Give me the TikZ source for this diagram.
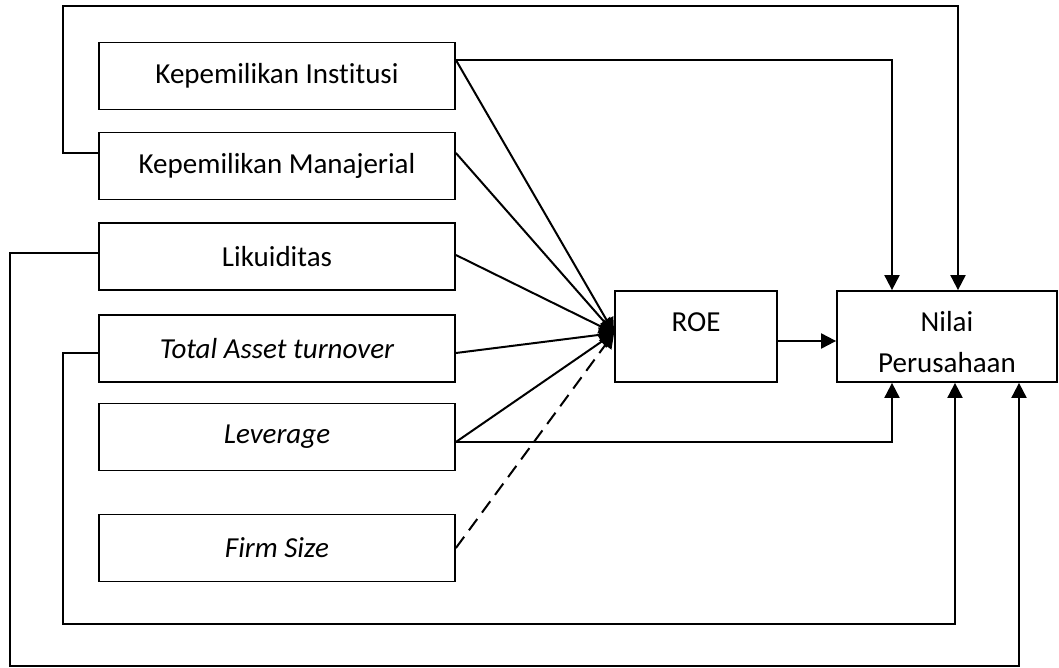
\documentclass[tikz,border=0pt]{standalone}
\usepackage{fontspec}
\setmainfont{Carlito}[Ligatures={NoCommon}]
\usetikzlibrary{arrows.meta,calc}
\begin{document}
\begin{tikzpicture}[x=1pt,y=-1pt,
  every node/.style={font=\fontsize{29}{41}\selectfont},
  box/.style={draw, line width=1.8pt, inner sep=0pt},
  lbox/.style={box, minimum width=356, minimum height=67},
  conn/.style={line width=2pt},
  arr/.style={conn, -{Triangle[length=15pt,width=15pt]}},
  dsh/.style={arr, dash pattern=on 14pt off 8pt}]
\useasboundingbox (0,0) rectangle (1059,668);
% left boxes
\node[lbox] (inst) at (277,76) {Kepemilikan Institusi};
\node[lbox] (man) at (277,166) {Kepemilikan Manajerial};
\node[lbox] (lik) at (277,256.5) {Likuiditas};
\node[lbox] (tat) at (277,348.5) {\itshape Total Asset turnover};
\node[lbox] (lev) at (277,437) {\itshape Leverage};
\node[lbox] (firm) at (277,548) {\itshape Firm Size};
% ROE and Nilai
\node[box, minimum width=162, minimum height=91] (roe) at (696,336.5) {};
\node at ([yshift=14]roe.center) {ROE};
\node[box, minimum width=220, minimum height=91] (nilai) at (947,336.5) {};
\node[align=center] at ([yshift=-6]nilai.center) {Nilai\\Perusahaan};
% anchor points
\coordinate (conv) at (roe.west |- 0,333);
\coordinate (instR) at (inst.east |- 0,60);
\coordinate (manR) at (man.east |- 0,153);
\coordinate (manL) at (man.west |- 0,153);
\coordinate (likR) at (lik.east |- 0,255);
\coordinate (likL) at (lik.west |- 0,253);
\coordinate (tatR) at (tat.east |- 0,353);
\coordinate (tatL) at (tat.west |- 0,353);
\coordinate (levR) at (lev.east |- 0,442);
\coordinate (firmR) at (firm.east |- 0,548);
% converging arrows
\draw[arr] (instR) -- (conv);
\draw[arr] (manR) -- (conv);
\draw[arr] (likR) -- (conv);
\draw[arr] (tatR) -- (conv);
\draw[arr] (levR) -- (conv);
\draw[dsh] (firmR) -- (conv);
% ROE to Nilai
\draw[arr] (roe.east |- 0,341) -- (nilai.west |- 0,341);
% routed lines to Nilai
\draw[arr] (instR) -- (892,60) -- (892,0 |- nilai.north);
\draw[arr] (manL) -- (63,153) -- (63,6) -- (958,6) -- (958,0 |- nilai.north);
\draw[arr] (levR) -- (892,442) -- (892,0 |- nilai.south);
\draw[arr] (tatL) -- (63,353) -- (63,624) -- (955,624) -- (955,0 |- nilai.south);
\draw[arr] (likL) -- (10,253) -- (10,666) -- (1019,666) -- (1019,0 |- nilai.south);
\end{tikzpicture}
\end{document}
